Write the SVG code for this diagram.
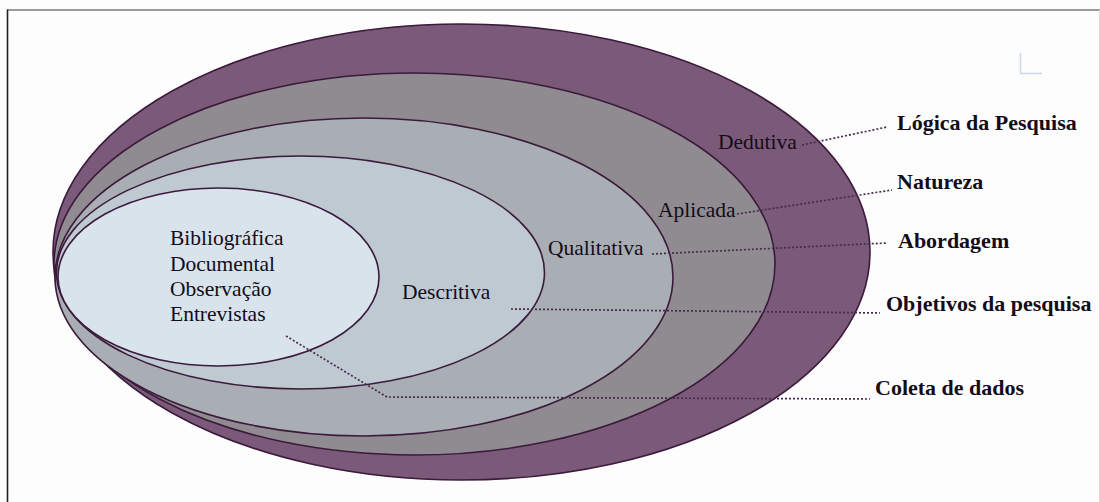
<svg xmlns="http://www.w3.org/2000/svg" width="1100" height="502" viewBox="0 0 1100 502">
  <style>
    .ring { stroke: #3b1a3c; stroke-width: 1.6; }
    .lbl { font-family: "Liberation Serif", "Times New Roman", serif; font-size: 21.5px; fill: #140c18; }
    .cat { font-family: "Liberation Serif", "Times New Roman", serif; font-size: 22px; font-weight: bold; fill: #140c18; }
    .dot { fill: none; stroke: #4a2a4c; stroke-width: 1.7; stroke-dasharray: 2 2; }
  </style>

  <rect x="0" y="0" width="1100" height="502" fill="#fdfdfd"/>
  <!-- frame edges -->
  <line x1="7" y1="10" x2="1100" y2="10" stroke="#7a7a7a" stroke-width="1.6"/>
  <line x1="7.5" y1="9.5" x2="7.5" y2="502" stroke="#222" stroke-width="1.6"/>
  <line x1="1099.5" y1="10" x2="1099.5" y2="502" stroke="#d8d8d8" stroke-width="1"/>
  <!-- corner mark -->
  <path d="M1020.5 53 V73.5 H1042" fill="none" stroke="#c9d9ea" stroke-width="1.5"/>

  <!-- nested levels, outermost first -->
  <g id="logica">
    <ellipse class="ring" cx="461.5" cy="252" rx="408.5" ry="228" fill="#7a5a78"/>
  </g>
  <g id="natureza">
    <ellipse class="ring" cx="414.5" cy="264" rx="360.5" ry="191" fill="#8f8b90"/>
  </g>
  <g id="abordagem">
    <ellipse class="ring" cx="364" cy="277" rx="309" ry="159" fill="#a9aeb4"/>
  </g>
  <g id="objetivos">
    <ellipse class="ring" cx="300.5" cy="272.5" rx="244" ry="116.5" fill="#bec9d2"/>
  </g>
  <g id="coleta">
    <ellipse class="ring" cx="218.5" cy="277" rx="160.5" ry="89" fill="#d8e3ec"/>
  </g>

  <!-- leader lines -->
  <g id="connectors">
    <path class="dot" d="M802 145 L887 127"/>
    <path class="dot" d="M737 214 L892 190"/>
    <path class="dot" d="M652 254 L887 243"/>
    <path class="dot" d="M511 309 L880 313"/>
    <path class="dot" d="M286 336 L387 397 L870 399"/>
  </g>

  <!-- labels inside the rings -->
  <g id="labels-inner">
    <text class="lbl" x="718" y="149">Dedutiva</text>
    <text class="lbl" x="658" y="217">Aplicada</text>
    <text class="lbl" x="548" y="255">Qualitativa</text>
    <text class="lbl" x="402" y="299">Descritiva</text>
    <text class="lbl" x="170" y="245">Bibliográfica</text>
    <text class="lbl" x="170" y="271">Documental</text>
    <text class="lbl" x="170" y="296">Observação</text>
    <text class="lbl" x="170" y="321">Entrevistas</text>
  </g>

  <!-- category names -->
  <g id="labels-outer">
    <text class="cat" x="897" y="130">Lógica da Pesquisa</text>
    <text class="cat" x="897" y="189">Natureza</text>
    <text class="cat" x="898" y="248">Abordagem</text>
    <text class="cat" x="886" y="311">Objetivos da pesquisa</text>
    <text class="cat" x="875" y="395">Coleta de dados</text>
  </g>
</svg>
